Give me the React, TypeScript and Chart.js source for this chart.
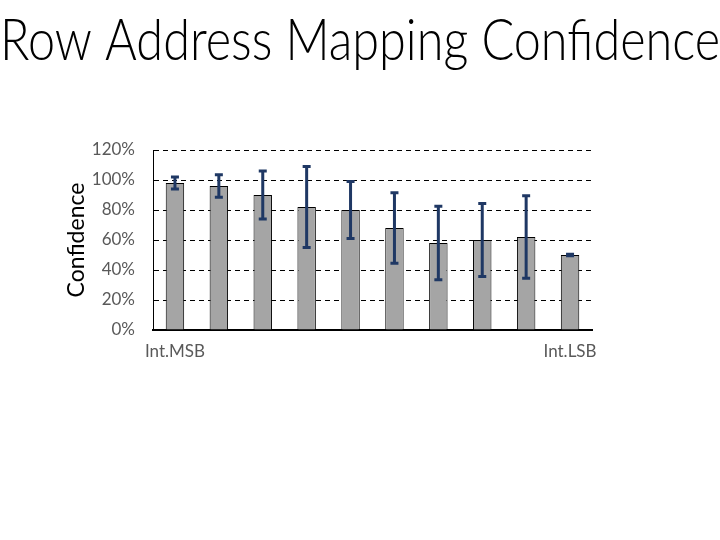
import React, { useEffect, useRef } from "react";
import { Chart, registerables } from "chart.js";

Chart.register(...registerables);

const categories = ["Int.MSB", "", "", "", "", "", "", "", "", "Int.LSB"];
const confidence = [98, 96, 90, 82, 80, 68, 58, 60, 62, 50];
const errorMargin = [4, 7.5, 16, 27, 19, 23.5, 24.5, 24.3, 27.5, 0.5];
const yTicks = [0, 20, 40, 60, 80, 100, 120];

const FONT = "Lato, 'Open Sans', sans-serif";

const errorBarPlugin = {
  id: "errorBars",
  afterDatasetsDraw(chart: any) {
    const meta = chart.getDatasetMeta(0);
    const yScale = chart.scales.y;
    const ctx = chart.ctx;
    ctx.save();
    ctx.strokeStyle = "#1F3864";
    ctx.lineWidth = 3;
    meta.data.forEach((bar: any, i: number) => {
      const x = bar.x;
      const yTop = yScale.getPixelForValue(confidence[i] + errorMargin[i]);
      const yBot = yScale.getPixelForValue(confidence[i] - errorMargin[i]);
      ctx.beginPath();
      ctx.moveTo(x, yTop);
      ctx.lineTo(x, yBot);
      ctx.moveTo(x - 4, yTop);
      ctx.lineTo(x + 4, yTop);
      ctx.moveTo(x - 4, yBot);
      ctx.lineTo(x + 4, yBot);
      ctx.stroke();
    });
    ctx.restore();
  },
};

export default function App() {
  const ref = useRef<HTMLCanvasElement | null>(null);
  useEffect(() => {
    if (!ref.current) return;
    const chart = new Chart(ref.current, {
      type: "bar",
      data: {
        labels: categories,
        datasets: [
          {
            data: confidence,
            backgroundColor: "#A5A5A5",
            borderColor: "#000000",
            borderWidth: 1,
            barPercentage: 0.42,
            categoryPercentage: 1,
          },
        ],
      },
      options: {
        animation: false,
        responsive: false,
        layout: { padding: { left: 0, right: 0, top: 0, bottom: 160 } },
        plugins: {
          legend: { display: false },
          tooltip: { enabled: false },
          title: {
            display: true,
            text: "Row Address Mapping Confidence",
            color: "#000000",
            font: { family: FONT, size: 57, weight: "300" as any },
            padding: { top: 7, bottom: 74.6 },
          },
        },
        scales: {
          x: {
            grid: { display: false },
            border: { display: true, color: "#000000", width: 2 },
            ticks: {
              color: "#595959",
              font: { family: FONT, size: 17 },
              padding: 3,
              autoSkip: false,
              maxRotation: 0,
            },
            afterFit(scale: any) {
              scale.height = 50;
            },
          },
          y: {
            min: 0,
            max: 120,
            afterBuildTicks(scale: any) {
              scale.ticks = yTicks.map((v) => ({ value: v }));
            },
            grid: { color: "#000000", lineWidth: 1, drawTicks: false },
            border: { display: true, color: "#000000", width: 1, dash: [5, 4] },
            ticks: {
              color: "#595959",
              font: { family: FONT, size: 17 },
              padding: 18,
              callback: (v: any) => v + "%",
            },
            title: {
              display: true,
              text: "Confidence",
              color: "#000000",
              font: { family: FONT, size: 23 },
              padding: { top: 63, bottom: 0 },
            },
            afterFit(scale: any) {
              scale.width = 153;
            },
          },
          spacer: {
            type: "linear",
            position: "right",
            display: true,
            grid: { display: false, drawTicks: false },
            border: { display: false },
            ticks: { display: false },
            afterFit(scale: any) {
              scale.width = 128;
            },
          },
        },
      },
      plugins: [errorBarPlugin],
    });
    return () => chart.destroy();
  }, []);
  return (
    <div style={{ position: "fixed", left: 0, top: 0, width: 720, height: 540, background: "#fff" }}>
      <canvas ref={ref} width={720} height={540} />
    </div>
  );
}
